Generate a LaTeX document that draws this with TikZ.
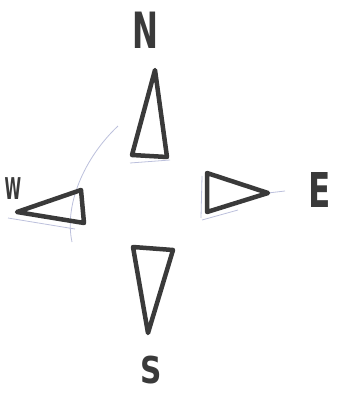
\documentclass[tikz,border=0pt]{standalone}
\usepackage{fontspec}
\setsansfont{DejaVu Sans}
\usepackage{graphicx}
\usetikzlibrary{positioning}
\definecolor{pen}{HTML}{3A3A3A}
\definecolor{pencil}{HTML}{BCC0DC}

\begin{document}
\begin{tikzpicture}[x=1pt,y=-1pt]
\useasboundingbox (0,0) rectangle (350,399);
\clip (0,0) rectangle (350,399);
% faint pencil guides
\begin{scope}[draw=pencil, line width=0.8pt]
    \draw (118,126) .. controls (84,158) and (64,205) .. (72,242);
    \draw (130,163) -- (170,160);
    \draw (202,176) -- (201,218);
    \draw (202,220) -- (238,210);
    \draw (268,193) -- (285,191);
    \draw (8,218) -- (75,229);
\end{scope}
% the four needles
\begin{scope}[draw=pen, line width=4.5pt, line join=round, line cap=round]
    \draw (155,70) -- (132,155) -- (167,157) -- cycle;
    \draw (207,173) -- (268,193) -- (207,212) -- cycle;
    \draw (17,212) -- (81,190) -- (84,223) -- cycle;
    \draw (133,247) -- (173,250) -- (148,333) -- cycle;
\end{scope}
% cardinal letters
\begin{scope}[every node/.style={text=pen, inner sep=0pt, font=\sffamily\bfseries}]
    \node (north) at (145,30) {\fontsize{50}{50}\selectfont\scalebox{0.62}[1]{N}};
    \node (east) at (320,190) {\fontsize{48}{48}\selectfont\scalebox{0.68}[1]{E}};
    \node (south) at (151,370) {\fontsize{37}{37}\selectfont\scalebox{0.8}[1]{S}};
    \node (west) at (13,189) {\fontsize{30}{30}\selectfont\scalebox{0.5}[1]{W}};
\end{scope}
\end{tikzpicture}
\end{document}
